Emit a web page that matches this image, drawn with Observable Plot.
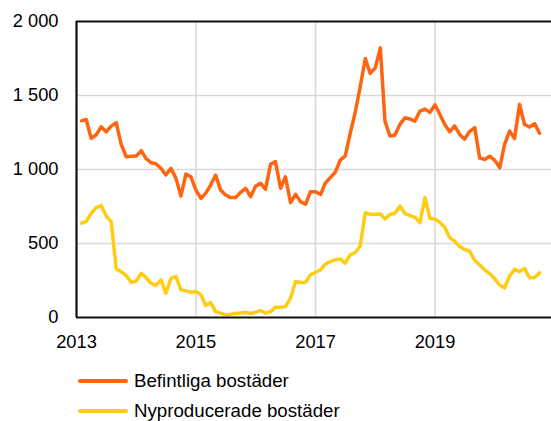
<!DOCTYPE html>
<html>
<head>
<meta charset="utf-8">
<script src="https://cdn.jsdelivr.net/npm/d3@7"></script>
<script src="https://cdn.jsdelivr.net/npm/@observablehq/plot@0.6"></script>
<style>
  html, body { margin: 0; padding: 0; background: #fff; }
  #wrap { position: relative; width: 551px; height: 421px; font-family: "Liberation Sans", Arial, sans-serif; }
  .leg { position: absolute; left: 78px; display: flex; align-items: center; font-size: 18.7px; color: #000; }
  .leg .sw { width: 50px; height: 4px; margin-right: 6px; border-radius: 2px; }
</style>
</head>
<body>
<div id="wrap"></div>
<script>
// Monthly observations, Feb 2013 – Oct 2020
const firstMonth = "2013-02-01";
const lastMonthExclusive = "2020-11-01";

const seriesNames = ["Befintliga bostäder", "Nyproducerade bostäder"];
const seriesColors = ["#ff6410", "#ffcc14"];

const befintliga = [
  1329, 1338, 1210, 1233, 1289, 1255, 1293, 1316, 1170, 1086, 1089,
  1091, 1127, 1075, 1046, 1039, 1008, 963, 1008, 940, 821, 969, 951,
  861, 805, 839, 895, 963, 861, 828, 810, 810, 846, 873, 816,
  888, 906, 866, 1035, 1053, 873, 951, 776, 832, 783, 765, 850,
  850, 832, 906, 945, 981, 1064, 1091, 1244, 1390, 1559, 1750, 1649,
  1687, 1822, 1327, 1226, 1233, 1305, 1350, 1341, 1327, 1395, 1408, 1386,
  1437, 1370, 1305, 1255, 1295, 1237, 1205, 1258, 1283, 1078, 1068, 1090,
  1062, 1012, 1170, 1260, 1210, 1440, 1305, 1287, 1310, 1245
];

const nyproducerade = [
  637, 648, 704, 742, 756, 686, 648, 328, 310, 283, 236,
  247, 299, 270, 232, 216, 254, 164, 265, 277, 187, 180, 171,
  175, 153, 81, 101, 40, 29, 18, 22, 29, 31, 34, 27,
  36, 47, 29, 40, 70, 70, 74, 130, 243, 236, 238, 288,
  306, 322, 360, 378, 389, 396, 367, 423, 439, 484, 708, 697,
  697, 700, 666, 697, 704, 753, 704, 688, 677, 641, 810, 670,
  666, 641, 610, 540, 516, 480, 460, 448, 385, 355, 322, 297,
  262, 218, 200, 280, 325, 310, 332, 268, 270, 303
];

const yTicks = [0, 500, 1000, 1500, 2000];
const yGrid = [500, 1000, 1500];
const xTickYears = [2013, 2015, 2017, 2019];
const xGridYears = [2015, 2017, 2019];

const months = d3.utcMonth.range(new Date(firstMonth), new Date(lastMonthExclusive));
const data = [];
months.forEach((d, i) => {
  data.push({date: d, value: befintliga[i], series: seriesNames[0]});
  data.push({date: d, value: nyproducerade[i], series: seriesNames[1]});
});
const yr = y => new Date(Date.UTC(y, 0, 1));
const fmt = d => d3.format(",")(d).replace(/,/g, " ");

const chart = Plot.plot({
  width: 551,
  height: 355,
  marginLeft: 76,
  marginRight: 0,
  marginTop: 21,
  marginBottom: 38,
  style: {fontSize: "18px", fontFamily: "'Liberation Sans', Arial, sans-serif", color: "#000", background: "#fff"},
  x: {type: "utc", domain: [yr(2013), new Date("2020-12-13")], label: null},
  y: {domain: [0, 2000], label: null},
  color: {domain: seriesNames, range: seriesColors},
  marks: [
    Plot.ruleY(yGrid, {stroke: "#d9d9d9", strokeWidth: 1.6}),
    Plot.ruleX(xGridYears.map(yr), {stroke: "#d9d9d9", strokeWidth: 1.6}),
    Plot.lineY(data, {x: "date", y: "value", stroke: "series", strokeWidth: 3.5, strokeLinejoin: "round", strokeLinecap: "round"}),
    Plot.ruleY([0], {stroke: "#111", strokeWidth: 2.2}),
    Plot.ruleY([2000], {stroke: "#111", strokeWidth: 2.2}),
    Plot.ruleX([yr(2013)], {stroke: "#111", strokeWidth: 2.2}),
    Plot.axisY({ticks: yTicks, tickSize: 0, tickPadding: 18, tickFormat: fmt, fontSize: 18.3, label: null}),
    Plot.axisX({ticks: xTickYears.map(yr), tickSize: 0, tickPadding: 17, tickFormat: d3.utcFormat("%Y"), fontSize: 18.3, label: null})
  ]
});

const wrap = document.getElementById("wrap");
wrap.appendChild(chart);
const legTops = [381, 411];
seriesNames.forEach((name, i) => {
  const item = document.createElement("div");
  item.className = "leg";
  item.style.top = (legTops[i] - 12) + "px";
  item.style.height = "24px";
  const sw = document.createElement("div");
  sw.className = "sw";
  sw.style.background = seriesColors[i];
  const label = document.createElement("span");
  label.textContent = name;
  item.appendChild(sw);
  item.appendChild(label);
  wrap.appendChild(item);
});
</script>
</body>
</html>
